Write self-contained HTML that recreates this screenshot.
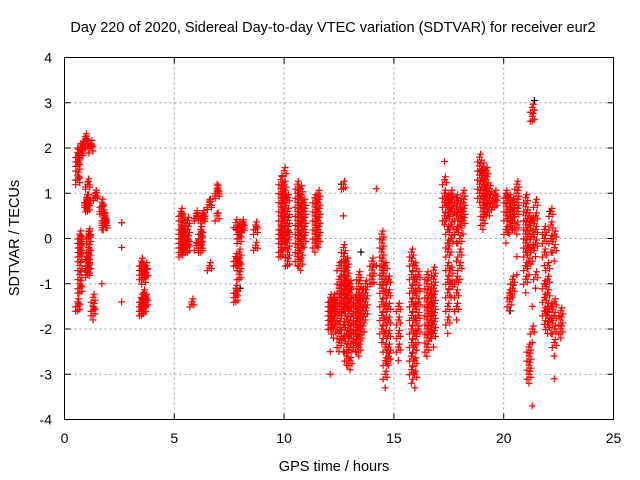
<!DOCTYPE html>
<html><head><meta charset="utf-8"><style>
body{margin:0;background:#fff}
svg{display:block;font-family:"Liberation Sans",sans-serif}
</style></head><body>
<svg id="chart" width="640" height="480" viewBox="0 0 640 480" xmlns="http://www.w3.org/2000/svg">
<text x="333" y="32" font-size="14.5" text-anchor="middle">Day 220 of 2020, Sidereal Day-to-day VTEC variation (SDTVAR) for receiver eur2</text>
<text x="334" y="471" font-size="14.5" text-anchor="middle">GPS time / hours</text>
<text transform="translate(19,238) rotate(-90)" font-size="14.5" text-anchor="middle">SDTVAR / TECUs</text>
<g id="grid"></g>
<g id="ticks"></g>
<g id="marksB"></g>
<g id="marks"></g>
<rect x="64.5" y="57.5" width="549" height="362" fill="none" stroke="#000"/>
</svg>
<script>
const xTicks=[0,5,10,15,20,25];
const yTicks=[-4,-3,-2,-1,0,1,2,3,4];
const streakTimes=[0.6,0.7,0.75,0.95,1.05,1.2,1.0,1.1,1.3,1.4,1.7,1.8,1.85,2.6,3.5,3.6,3.7,
5.3,5.45,5.6,5.8,6.0,6.2,6.3,6.6,6.95,7.8,7.95,8.1,8.7,
9.85,10.0,10.15,10.6,10.75,10.9,11.4,11.55,
12.1,12.25,12.5,12.7,12.85,13.0,13.25,13.4,13.55,13.7,14.0,14.2,
14.45,14.6,14.75,15.2,15.8,15.95,16.1,16.5,16.65,16.8,
17.3,17.45,17.6,17.85,18.0,18.15,18.9,19.05,19.2,19.35,19.6,
20.1,20.25,20.4,20.6,21.0,21.15,21.3,21.45,21.85,22.0,22.15,22.3,22.6];
const streakValues=[
[1.3,1.4,1.6,1.7,1.8,1.9,2.0,-1.4,-1.5,-1.6],
[0.1,0,-0.1,-0.2,-0.3,-0.4,-0.6,-0.8,-1.0,-1.1,-1.2],
[2.0,1.9,1.95,2.1],
[2.2,2.15,2.25,2.1,2.0],
[1.2,1.25,0.9,0.8,0.7,0.6,-0.4,-0.5,-0.6,-0.7,-0.75,-0.8],
[2.1,2.0,2.05],
[0.9,0.8,0.85,0.65],
[0.1,0.15,0,-0.2,-0.3,-0.6,-0.65],
[-1.3,-1.5,-1.6,-1.8],
[1.0,0.95,0.9],
[0.8,0.7,0.65,0.6,-1.0],
[0.5,0.4,0.35,0.3,0.45,0.55],
[0.3,0.35,0.4],
[0.35,-0.2,-1.4],
[-0.5,-0.6,-0.7,-0.8,-0.9,-1.3,-1.4,-1.5,-1.6,-1.7],
[-0.7,-0.8,-0.9,-1.2,-1.35,-1.45,-1.55,-1.65],
[-0.6,-0.75,-0.85,-1.3,-1.4,-1.5],
[0.6,0.5,0.3,0.2,0.1,0,-0.1,-0.2,-0.3,-0.35],
[0.4,0.2,0.1,0,-0.1,-0.2,-0.3],
[0.4,0.2,0,-0.1,-0.2,-0.3],
[-1.4,-1.45],
[0.5,0.55,0.45,-0.15,-0.1],
[0.2,0.1,0,-0.15,-0.2,-0.3],
[0.5,0.45,0.55,0.4],
[0.8,0.75,0.85,-0.6,-0.65],
[1.0,1.1,1.05,1.2,0.5,0.55],
[0.35,0.2,-0.4,-0.5,-0.6,-1.1,-1.2,-1.3,-1.4],
[0.3,0.2,0.1,0,-0.3,-0.5,-0.6,-0.8,-0.9],
[0.3,0.25,0.35,0.2],
[0.3,0.2,-0.15,-0.2],
[1.3,1.1,0.9,0.7,0.5,0.3,0.2,0.1,0,-0.2,-0.3,-0.4],
[1.5,1.2,1.0,0.8,0.6,0.4,0.2,0,-0.2],
[0.9,0.6,0.4,0.2,0.1,-0.1,-0.3,-0.5,-0.6],
[1.2,1.0,0.8,0.6,0.4,0.2,0,-0.2,-0.4,-0.6],
[1.1,0.9,0.7,0.5,0.3,0.1,-0.1,-0.3,-0.5,-0.7],
[0.8,0.6,0.4,0.2,0,-0.2],
[0.9,0.7,0.5,0.3,0.1,-0.1,-0.3],
[1.0,0.8,0.6,0.4,0.2,0,-0.2],
[-1.3,-1.4,-1.5,-1.6,-1.7,-1.8,-1.9,-2.0,-2.5,-3.0],
[-1.3,-1.4,-1.5,-1.6,-1.8,-2.0,-2.2],
[-0.6,-0.9,-1.1,-1.3,-1.5,-1.7,-1.9,-2.1,-2.3,-2.5],
[1.2,1.1,0.5,-0.2,-0.4,-0.6,-0.8,-1.0,-1.2,-1.4,-1.6,-1.9,-2.2,-2.5],
[-0.5,-0.7,-0.9,-1.1,-1.3,-1.5,-1.8,-2.1,-2.4,-2.6,-2.8],
[-1.0,-1.2,-1.4,-1.6,-1.8,-2.0,-2.2,-2.4,-2.7,-2.9],
[-1.3,-1.5,-1.7,-1.9,-2.1,-2.3,-2.5],
[-0.8,-1.0,-1.2,-1.4,-1.6,-1.8,-2.0,-2.2,-2.4,-2.6],
[-1.2,-1.4,-1.6,-1.8,-2.0,-2.2],
[-1.0,-1.2,-1.4,-1.6,-1.8],
[-0.5,-0.7,-0.9,-1.0],
[1.1,-0.6],
[0.1,-0.1,-0.3,-0.5,-0.7,-0.9,-1.1,-1.4,-1.7,-2.0,-2.3],
[-0.6,-0.9,-1.2,-1.5,-1.8,-2.1,-2.4,-2.7,-3.0,-3.3],
[-0.9,-1.2,-1.5,-1.8,-2.1,-2.4,-2.6,-2.8],
[-1.5,-1.8,-2.1,-2.4,-2.7],
[-0.3,-0.5,-0.8,-1.1,-1.4,-1.7,-2.0,-2.3,-2.6,-2.9,-3.2],
[-0.6,-0.9,-1.2,-1.5,-1.8,-2.1,-2.4,-2.7,-3.0,-3.3],
[-0.8,-1.1,-1.4,-1.7,-2.0,-2.3],
[-0.8,-1.0,-1.2,-1.4,-1.6,-1.8,-2.0,-2.2,-2.4,-2.6],
[-1.2,-1.4,-1.6,-1.8,-2.0,-2.2],
[-0.7,-0.9,-1.1,-1.3,-1.5,-1.7,-1.9,-2.1,-2.4],
[1.7,1.3,1.0,0.8,0.5,0.3],
[0.9,0.7,0.5,0.2,-0.1,-0.3,-0.6,-0.9,-1.2,-1.5,-1.8,-2.1],
[1.0,0.8,0.6,0.3,0,-0.3,-0.7,-1.0,-1.3],
[0.9,0.7,0.5,0.2,-0.1,-0.5,-0.9,-1.2,-1.5,-1.8],
[0.7,0.5,0.3,0,-0.3,-0.6,-0.9],
[1.0,0.8,0.6,0.4,0.1],
[1.8,1.6,1.4,1.2,1.0,0.8],
[1.6,1.4,1.2,1.0,0.8,0.6,0.4,0.2],
[1.5,1.3,1.1,0.9,0.7,0.5],
[1.1,0.9,0.7,0.5],
[0.8,0.9,1.0,0.7],
[1.0,0.9,0.7,0.5,0.2,-0.1],
[0.9,0.7,0.5,0.3,0.1,-1.2,-1.4,-1.6],
[0.8,0.6,0.4,0.2,-0.9,-1.1,-1.3],
[1.2,1.0,0.8,0.6,0.3,0.1,-0.4,-0.8],
[0.9,0.7,0.5,0.3,0.1,-0.1,-0.3,-0.6,-0.9,-1.2],
[0.5,0.3,0.1,-0.2,-0.5,-0.8,-2.4,-2.6,-2.8,-3.0,-3.2],
[2.9,2.7,2.6,0.4,0.1,-0.2,-0.5,-1.5,-2.0,-2.3,-3.7],
[0.8,0.5,0.2,-0.1,-0.4,-0.8,-1.1],
[0.2,0,-0.3,-0.6,-1.0,-1.3,-1.6,-1.9],
[-0.6,-0.9,-1.2,-1.5,-1.7,-1.9,-2.1],
[0.6,0.3,0,-0.3,-1.5,-1.8,-2.1],
[0.1,-0.2,-0.5,-1.4,-1.7,-2.0,-2.3,-2.6,-3.1],
[-1.6,-1.8,-2.0,-2.2]];
const blackTimes=[0.7,1.3,2.6,5.6,8.0,12.6,13.5,17.9,19.0,20.3,21.4,22.1];
const blackValues=[-0.8,-1.5,0.35,-0.3,-1.1,1.2,-0.3,0.9,1.5,-1.6,3.05,0.6];

const X=t=>64.5+t*(549/25), Y=v=>238.5-v*(362/8);
const NS='http://www.w3.org/2000/svg';
const grid=document.getElementById('grid'), ticks=document.getElementById('ticks');
function ln(p,x1,y1,x2,y2,st,dash){const l=document.createElementNS(NS,'line');l.setAttribute('x1',x1);l.setAttribute('y1',y1);l.setAttribute('x2',x2);l.setAttribute('y2',y2);l.setAttribute('stroke',st);if(dash)l.setAttribute('stroke-dasharray',dash);p.appendChild(l);return l;}
function tx(p,x,y,s,anchor){const t=document.createElementNS(NS,'text');t.setAttribute('x',x);t.setAttribute('y',y);t.setAttribute('font-size','14');t.setAttribute('text-anchor',anchor);t.textContent=s;p.appendChild(t);return t;}
xTicks.forEach(v=>{const x=X(v);
 if(v>0&&v<25){const g=ln(grid,x,57.5,x,419.5,'#a0a0a0','2,3');}
 ln(ticks,x,419.5,x,413.5,'#000');ln(ticks,x,57.5,x,63.5,'#000');
 const t=tx(ticks,x,443,String(v),'middle');});
yTicks.forEach(v=>{const y=Y(v);
 if(v>-4&&v<4){const g=ln(grid,64.5,y,613.5,y,'#a0a0a0','2,3');}
 ln(ticks,64.5,y,70.5,y,'#000');ln(ticks,613.5,y,607.5,y,'#000');
 const t=tx(ticks,52,y+5,String(v),'end');});
function plus(g,t,v,c,dx,dy){const x=X(t)+dx,y=Y(v)+dy;const p=document.createElementNS(NS,'path');
 p.setAttribute('d',`M${x-3.5},${y}h7M${x},${y-3.5}v7`);p.setAttribute('stroke',c);p.setAttribute('stroke-width','1.2');
 
 
 g.appendChild(p);}
const mB=document.getElementById('marksB');
blackTimes.forEach((t,i)=>plus(mB,t,blackValues[i],'#000',0,0));
const m=document.getElementById('marks');
streakTimes.forEach((t,i)=>streakValues[i].forEach((v,j)=>{
 plus(m,t,v,'#f00',0,0);
 if(j+1<streakValues[i].length){const w=streakValues[i][j+1];
  if(Math.abs(w-v)<=0.35){plus(m,t,v,'#f00',2,3);plus(m,t,v,'#f00',-2,5);plus(m,t,v,'#f00',1,-3);}}
}));
</script>
</body></html>
